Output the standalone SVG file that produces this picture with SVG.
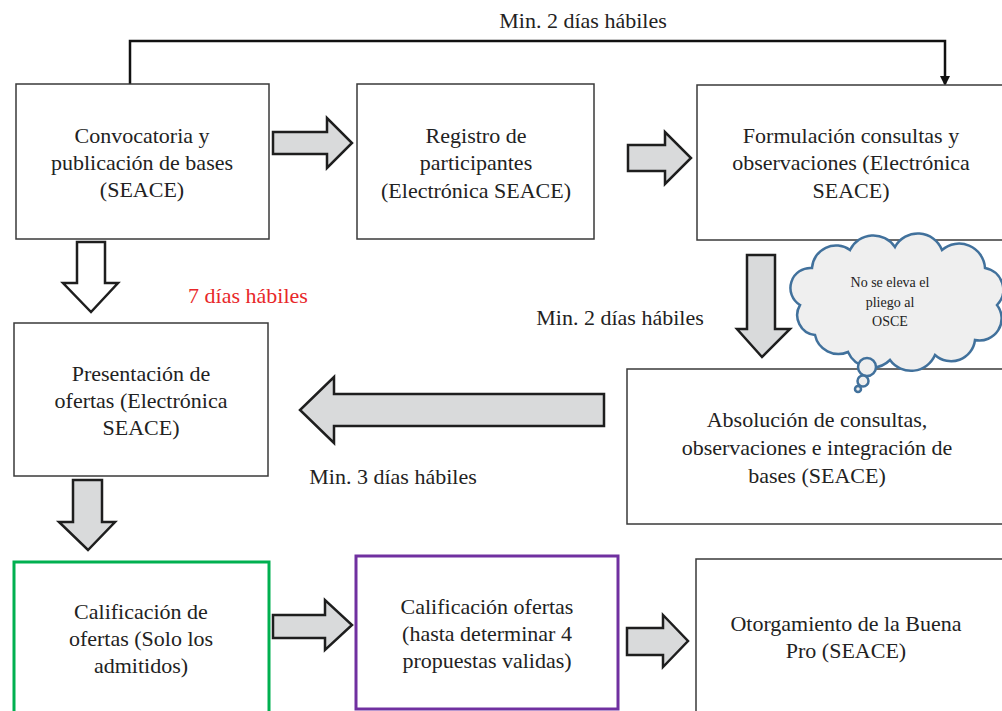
<svg xmlns="http://www.w3.org/2000/svg" width="1002" height="711" viewBox="0 0 1002 711">
<style>
.box{fill:#fff;stroke:#3a3a3a;stroke-width:1.5}
.t{font-family:'Liberation Serif','Times New Roman',serif;font-size:22px;fill:#222;text-anchor:middle}
.s{font-size:14px}
.red{fill:#e8272a}
.blk{fill:#d9dadb;stroke:#1e1e1e;stroke-width:2.5;stroke-linejoin:miter}
.wht{fill:#fff;stroke:#1e1e1e;stroke-width:2.5}
.cl{fill:#efefef;stroke:#41719c;stroke-width:2.5}
</style>
<defs>
<marker id="ah" markerWidth="10" markerHeight="10" refX="8" refY="5" orient="auto" markerUnits="userSpaceOnUse" viewBox="0 0 10 10"><path d="M0,0 L10,5 L0,10 z" fill="#111"/></marker>
</defs>
<rect width="1002" height="711" fill="#fff"/>
<g id="connectors">
<path d="M130,84 V41 H945 V84" fill="none" stroke="#111" stroke-width="2.5" marker-end="url(#ah)"/>
<path class="blk" d="M273,132 H327 V118 L352,143 L327,168 V154 H273 Z"/>
<path class="blk" d="M628,145 H665 V132 L691,158 L665,184 V171 H628 Z"/>
<path class="wht" d="M77,242 H105 V283 H118 L91,312 L63,283 H77 Z"/>
<path class="blk" d="M73,480 H102 V522 H115 L88,550 L59,522 H73 Z"/>
<path class="blk" d="M747,255 H775 V329 H790 L762,357 L737,329 H747 Z"/>
<path class="blk" d="M604,394 H334 V377 L300,410 L334,443 V426 H604 Z"/>
<path class="blk" d="M273,615 H325 V600 L352,625 L325,650 V638 H273 Z"/>
<path class="blk" d="M627,628 H663 V615 L688,641 L663,667 V655 H627 Z"/>
</g>
<text class="t" x="583" y="28">Min. 2 días hábiles</text>
<text class="t red" x="248" y="303">7 días hábiles</text>
<text class="t" x="620" y="325">Min. 2 días hábiles</text>
<text class="t" x="393" y="484">Min. 3 días hábiles</text>
<g id="n1"><rect class="box" x="16" y="84" width="253" height="155"/>
<text class="t" x="142" y="143">Convocatoria y</text><text class="t" x="142" y="170">publicación de bases</text><text class="t" x="142" y="197">(SEACE)</text></g>
<g id="n2"><rect class="box" x="357" y="84" width="237" height="155"/>
<text class="t" x="476" y="143">Registro de</text><text class="t" x="476" y="170">participantes</text><text class="t" x="476" y="198">(Electrónica SEACE)</text></g>
<g id="n3"><rect class="box" x="697" y="85" width="320" height="155"/>
<text class="t" x="851" y="143">Formulación consultas y</text><text class="t" x="851" y="170">observaciones (Electrónica</text><text class="t" x="851" y="198">SEACE)</text></g>
<g id="n4"><rect class="box" x="14" y="323" width="254" height="153"/>
<text class="t" x="141" y="381">Presentación de</text><text class="t" x="141" y="408">ofertas (Electrónica</text><text class="t" x="141" y="435">SEACE)</text></g>
<g id="n5"><rect class="box" x="627" y="369" width="390" height="155"/>
<text class="t" x="817" y="427">Absolución de consultas,</text><text class="t" x="817" y="455">observaciones e integración de</text><text class="t" x="817" y="483">bases (SEACE)</text></g>
<g id="n6"><rect x="14" y="562" width="255" height="170" fill="#fff" stroke="#00b050" stroke-width="3"/>
<text class="t" x="141" y="619">Calificación de</text><text class="t" x="141" y="646">ofertas (Solo los</text><text class="t" x="141" y="673">admitidos)</text></g>
<g id="n7"><rect x="356" y="556" width="262" height="153" fill="#fff" stroke="#7030a0" stroke-width="3"/>
<text class="t" x="487" y="614">Calificación ofertas</text><text class="t" x="487" y="641">(hasta determinar 4</text><text class="t" x="487" y="668">propuestas validas)</text></g>
<g id="n8"><rect class="box" x="696" y="559" width="320" height="170"/>
<text class="t" x="846" y="631">Otorgamiento de la Buena</text><text class="t" x="846" y="658">Pro (SEACE)</text></g>
<g id="cloud">
<path class="cl" d="M800,305 A20,20 0 0 1 812,268 A24,24 0 0 1 850,250 A26,26 0 0 1 895,247 A26,26 0 0 1 942,250 A26,26 0 0 1 985,268 A22,22 0 0 1 997,305 A22,22 0 0 1 975,340 A24,24 0 0 1 935,355 A26,26 0 0 1 890,360 A26,26 0 0 1 848,352 A24,24 0 0 1 815,335 A20,20 0 0 1 800,305 Z"/>
<circle class="cl" cx="867" cy="367" r="9"/>
<circle class="cl" cx="863" cy="381" r="5.5"/>
<circle class="cl" cx="858" cy="389" r="3" stroke-width="2"/>
<text class="t s" x="890" y="287">No se eleva el</text>
<text class="t s" x="890" y="307">pliego al</text>
<text class="t s" x="890" y="326">OSCE</text>
</g>
</svg>
